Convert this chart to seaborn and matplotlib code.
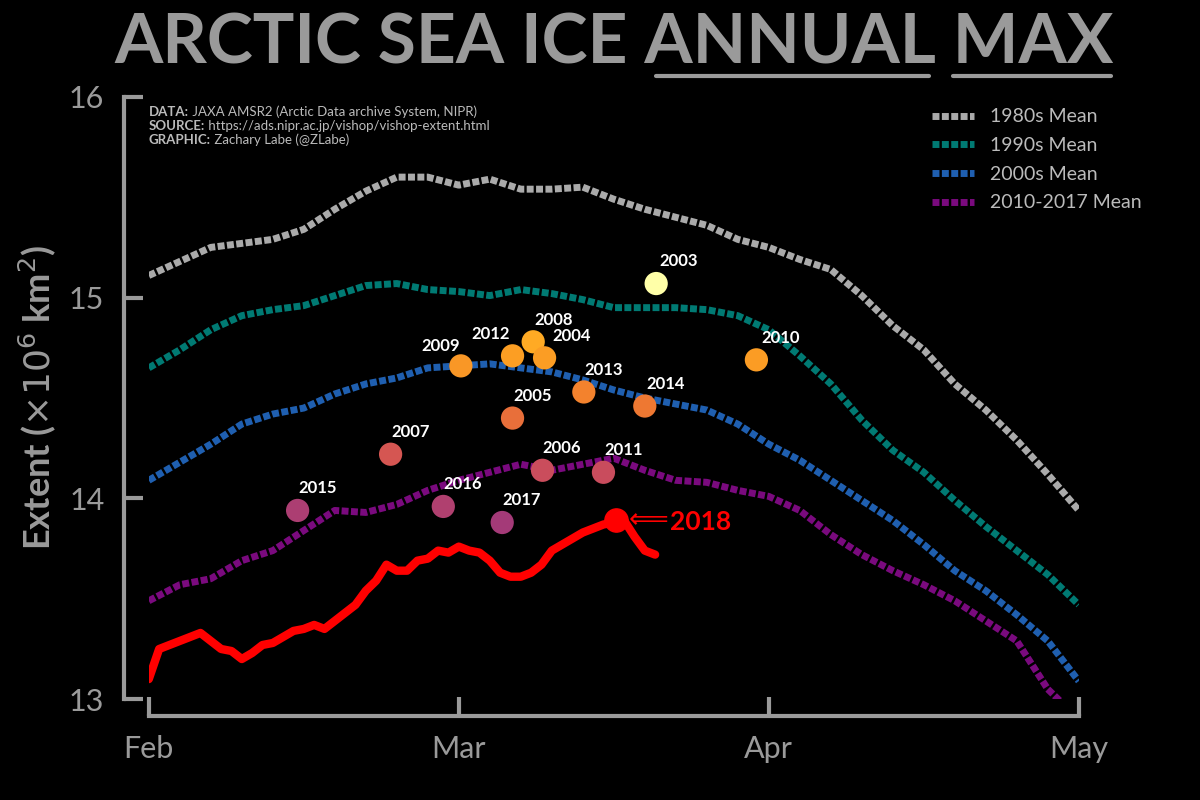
import numpy as np
import matplotlib
matplotlib.use("Agg")
import matplotlib.pyplot as plt
import seaborn as sns
from matplotlib.lines import Line2D
from matplotlib.colors import LinearSegmentedColormap

sns.set_theme(style="dark")
plt.rcParams['font.family'] = ['Lato', 'DejaVu Sans']

days_mean = list(range(0, 91, 3))
mean_1980s = [15.11,15.18,15.25,15.27,15.29,15.34,15.44,15.53,15.60,15.60,15.56,15.59,15.54,15.54,15.55,15.49,
              15.44,15.40,15.36,15.29,15.25,15.19,15.14,15.01,14.86,14.74,14.57,14.44,14.29,14.12,13.94]
mean_1990s = [14.65,14.74,14.84,14.91,14.94,14.96,15.01,15.06,15.07,15.04,15.03,15.01,15.04,15.02,14.99,14.95,
              14.95,14.95,14.94,14.91,14.84,14.71,14.57,14.39,14.24,14.13,13.99,13.86,13.74,13.62,13.47]
mean_2000s = [14.09,14.18,14.27,14.37,14.42,14.45,14.52,14.57,14.60,14.65,14.66,14.67,14.65,14.63,14.59,14.54,
              14.50,14.47,14.44,14.37,14.27,14.19,14.09,13.99,13.89,13.77,13.64,13.54,13.42,13.29,13.09]
mean_2010s = [13.49,13.57,13.60,13.69,13.74,13.84,13.94,13.93,13.97,14.04,14.09,14.13,14.17,14.14,14.17,14.20,
              14.14,14.09,14.08,14.04,14.01,13.94,13.82,13.72,13.64,13.57,13.49,13.39,13.29,13.05,12.90]

days_2018 = list(range(0, 50))
ext_2018 = [13.10,13.25,13.27,13.29,13.31,13.33,13.29,13.25,13.24,13.20,13.23,13.27,13.28,13.31,13.34,13.35,13.37,
            13.35,13.39,13.43,13.47,13.54,13.59,13.67,13.64,13.64,13.69,13.70,13.74,13.73,13.76,13.74,13.73,13.69,
            13.63,13.61,13.61,13.63,13.67,13.74,13.77,13.80,13.83,13.85,13.87,13.88,13.89,13.81,13.74,13.72]

years = ["2003","2010","2009","2012","2008","2004","2013","2014","2005","2007","2006","2011","2015","2016","2017"]
max_day = [49.1,58.8,30.2,35.2,37.2,38.3,42.1,48.0,35.2,23.4,38.1,44.0,14.4,28.5,34.2]
max_ext = [15.07,14.69,14.66,14.71,14.78,14.70,14.53,14.46,14.40,14.22,14.14,14.13,13.94,13.96,13.88]
max_day_2018 = 45.2
max_ext_2018 = 13.89

tick_pos = [0, 30, 60, 90]
tick_lab = ["Feb", "Mar", "Apr", "May"]

fig = plt.figure(figsize=(12, 8), dpi=100, facecolor="black")
ax = fig.add_axes([0.124, 0.126, 0.775, 0.753])
ax.set_facecolor("black")

gray = "#9a9a9a"
series = [(mean_1980s, "#aaaaaa", "1980s Mean"), (mean_1990s, "#007a73", "1990s Mean"),
          (mean_2000s, "#1f5fb0", "2000s Mean"), (mean_2010s, "#7a0a7e", "2010-2017 Mean")]
for vals, col, lab in series:
    sns.lineplot(x=days_mean, y=vals, ax=ax, color=col, lw=5, linestyle=(0, (1, 0.35)), label=lab)

sns.lineplot(x=days_2018, y=ext_2018, ax=ax, color="red", lw=6, legend=False)

cmap = LinearSegmentedColormap.from_list("m", ["#a43a78", "#d05058", "#f07a30", "#ffa820", "#ffffa8"])
norm = plt.Normalize(13.88, 15.07)
offsets = {"2003": (0.3, 0.07), "2010": (0.5, 0.07), "2009": (-3.8, 0.06), "2012": (-4.0, 0.07),
           "2008": (0.1, 0.07), "2004": (0.8, 0.07), "2013": (0.1, 0.07), "2014": (0.2, 0.07),
           "2005": (0.1, 0.07), "2007": (0.1, 0.07), "2006": (0.0, 0.07), "2011": (0.1, 0.07),
           "2015": (0.1, 0.07), "2016": (0.0, 0.07), "2017": (0.0, 0.07)}
for y, d, e in zip(years, max_day, max_ext):
    c = cmap(norm(e))
    ax.scatter(d, e, s=280, color=c, zorder=5, edgecolor="none")
    dx, dy = offsets[y]
    ax.text(d + dx, e + dy, y, color="white", fontsize=12, fontweight="bold", ha="left", va="bottom", zorder=6)
ax.scatter(max_day_2018, max_ext_2018, s=280, color="red", zorder=7)
ax.text(max_day_2018 + 1.2, max_ext_2018, "⟸", color="red", fontsize=20, va="center", ha="left",
        family="DejaVu Sans", zorder=7)
ax.text(max_day_2018 + 5.2, max_ext_2018 - 0.01, "2018", color="red", fontsize=19, fontweight="bold",
        va="center", ha="left", zorder=7)

ax.set_xlim(0, 90)
ax.set_ylim(13, 16)
ax.set_xticks(tick_pos)
ax.set_xticklabels(tick_lab)
ax.set_yticks([13, 14, 15, 16])
ax.tick_params(colors=gray, labelsize=22, direction="in", length=14, width=3, pad=14, left=True, bottom=True)
for s in ["top", "right"]:
    ax.spines[s].set_visible(False)
for s in ["left", "bottom"]:
    ax.spines[s].set_visible(True)
    ax.spines[s].set_color(gray)
    ax.spines[s].set_linewidth(3)
ax.spines["left"].set_position(("outward", 18))
ax.spines["bottom"].set_position(("outward", 12))
ax.set_xlabel("")
ax.set_ylabel(r"Extent ($\times10^6$ km$^2$)", color=gray, fontsize=26, fontweight="bold", labelpad=8)
ax.grid(False)

leg = ax.legend(loc="upper right", frameon=False, fontsize=14, handlelength=2.2, borderaxespad=0.2,
                labelspacing=0.6, bbox_to_anchor=(1.08, 1.0))
for t in leg.get_texts():
    t.set_color("#bbbbbb")

credits = [("DATA:", " JAXA AMSR2 (Arctic Data archive System, NIPR)"),
           ("SOURCE:", " https://ads.nipr.ac.jp/vishop/vishop-extent.html"),
           ("GRAPHIC:", " Zachary Labe (@ZLabe)")]
for i, (head, body) in enumerate(credits):
    yy = 0.985 - i * 0.023
    t = ax.text(0.0, yy, head, transform=ax.transAxes, color="#bbbbbb", fontsize=9.5, fontweight="bold",
                va="top", ha="left")
    ax.annotate(body, xycoords=t, xy=(1, 0), va="bottom", ha="left", color="#bbbbbb", fontsize=9.5)

fig.text(0.512, 0.945, "ARCTIC SEA ICE ANNUAL MAX", color=gray, fontsize=50, fontweight="bold",
         ha="center", va="center")
fig.add_artist(Line2D([0.547, 0.774], [0.905, 0.905], color=gray, lw=3, transform=fig.transFigure))
fig.add_artist(Line2D([0.794, 0.926], [0.905, 0.905], color=gray, lw=3, transform=fig.transFigure))

fig.savefig("out.png", dpi=100, facecolor="black")
